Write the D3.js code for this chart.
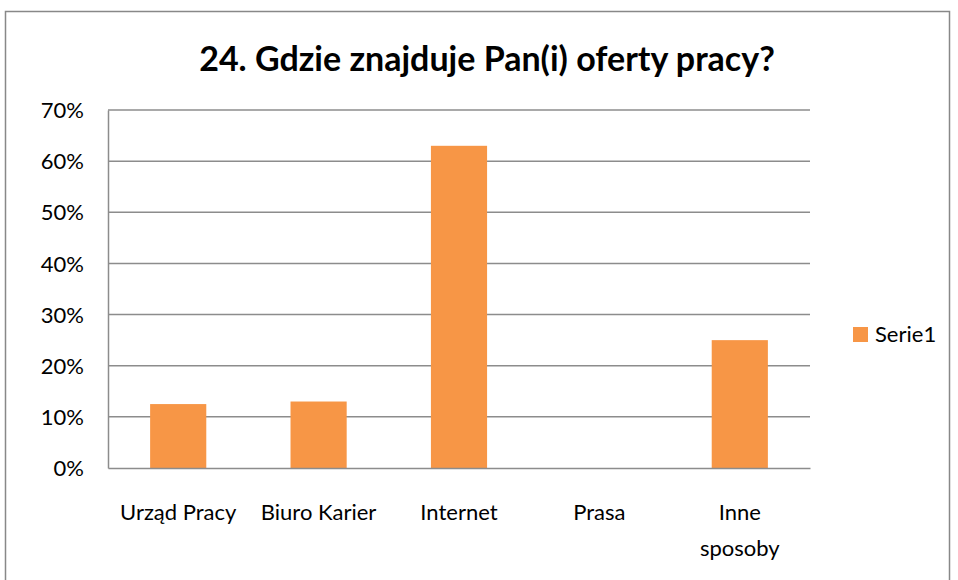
<!DOCTYPE html>
<html>
<head>
<meta charset="utf-8">
<script src="https://cdn.jsdelivr.net/npm/d3@7"></script>
<style>
  body { margin: 0; background: #fff; }
  text { font-family: Lato, "Open Sans", sans-serif; fill: #000; }
</style>
</head>
<body>
<div id="chart"></div>
<script>
// data
var categories = ["Urząd Pracy", "Biuro Karier", "Internet", "Prasa", "Inne sposoby"];
var values = [0.125, 0.13, 0.63, 0, 0.25];
var yTicks = [0, 0.1, 0.2, 0.3, 0.4, 0.5, 0.6, 0.7];
var seriesName = "Serie1";
var title = "24. Gdzie znajduje Pan(i) oferty pracy?";

var width = 958, height = 580;
var margin = { top: 110, right: 148, bottom: 112, left: 108 };
var chartWidth = width - margin.left - margin.right;
var chartHeight = height - margin.top - margin.bottom;
var barColor = "#f79646";
var fontSize = 22;

var svg = d3.select("#chart").append("svg")
    .attr("width", width)
    .attr("height", height);

// outer chart border
svg.append("rect")
    .attr("x", 5.5)
    .attr("y", 11.5)
    .attr("width", 944)
    .attr("height", 600)
    .attr("fill", "none")
    .attr("stroke", "#888")
    .attr("stroke-width", 1.5);

svg.append("text")
    .attr("x", 487)
    .attr("y", 71)
    .attr("text-anchor", "middle")
    .attr("font-size", 34)
    .attr("font-weight", "bold")
    .text(title);

var chartGroup = svg.append("g")
    .attr("transform", `translate(${margin.left}, ${margin.top})`);

var xScale = d3.scaleBand()
    .domain(categories)
    .range([0, chartWidth])
    .paddingInner(0.6)
    .paddingOuter(0.3);

var yScale = d3.scaleLinear()
    .domain([0, 0.7])
    .range([chartHeight, 0]);

// gridlines
chartGroup.append("g")
    .selectAll("line")
    .data(yTicks.slice(1))
    .enter()
    .append("line")
    .attr("x1", 0)
    .attr("x2", chartWidth)
    .attr("y1", d => yScale(d))
    .attr("y2", d => yScale(d))
    .attr("stroke", "#8c8c8c")
    .attr("stroke-width", 1.5);

// y axis
var yAxis = d3.axisLeft(yScale)
    .tickValues(yTicks)
    .tickFormat(d3.format(".0%"))
    .tickSize(0)
    .tickPadding(24);

var yG = chartGroup.append("g").call(yAxis);
yG.select(".domain").attr("stroke", "#8c8c8c").attr("stroke-width", 1.5);
yG.selectAll("text")
    .attr("font-size", fontSize)
    .attr("dy", "0.35em")
    .style("font-family", "Lato, sans-serif");

// bars
chartGroup.selectAll("rect.bar")
    .data(values)
    .enter()
    .append("rect")
    .attr("class", "bar")
    .attr("x", (d, i) => xScale(categories[i]))
    .attr("y", d => yScale(d))
    .attr("width", xScale.bandwidth())
    .attr("height", d => chartHeight - yScale(d))
    .attr("fill", barColor);

// x axis
var xAxis = d3.axisBottom(xScale).tickSize(0).tickPadding(0);
var xG = chartGroup.append("g")
    .attr("transform", `translate(0, ${chartHeight})`)
    .call(xAxis);
xG.select(".domain").attr("stroke", "#8c8c8c").attr("stroke-width", 1.5);
xG.selectAll("text").remove();

// category labels, wrapped like the original
var labelLines = {
    "Inne sposoby": ["Inne", "sposoby"]
};
xG.selectAll("g.tick").each(function (d) {
    var lines = labelLines[d] || [d];
    var t = d3.select(this).append("text")
        .attr("text-anchor", "middle")
        .attr("font-size", fontSize)
        .attr("fill", "#000")
        .style("font-family", "Lato, sans-serif");
    lines.forEach(function (line, k) {
        t.append("tspan")
            .attr("x", 0)
            .attr("y", 52 + k * 36)
            .text(line);
    });
});

// legend
var legend = svg.append("g").attr("transform", "translate(853, 327)");
legend.append("rect")
    .attr("width", 15)
    .attr("height", 15)
    .attr("fill", barColor);
legend.append("text")
    .attr("x", 22)
    .attr("y", 15)
    .attr("font-size", fontSize)
    .text(seriesName);
</script>
</body>
</html>
